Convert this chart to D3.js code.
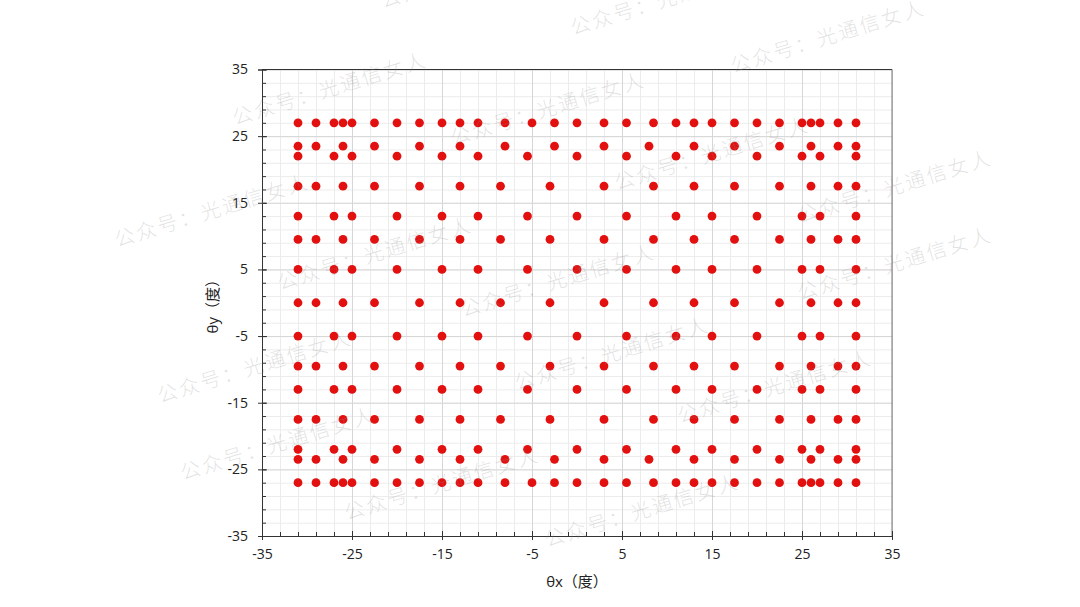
<!DOCTYPE html>
<html>
<head>
<meta charset="utf-8">
<script src="https://cdn.jsdelivr.net/npm/d3@7"></script>
<style>
  html, body { margin: 0; padding: 0; background: #fff; }
  svg { display: block; }
  .tick text { font-family: "Open Sans", "Noto Sans", sans-serif; font-size: 14px; fill: #222; }
</style>
</head>
<body>
<svg id="chart" width="1080" height="607"></svg>
<script>
// ---------------- data ----------------
const xTickValues = [-35, -25, -15, -5, 5, 15, 25, 35];
const yTickValues = [-35, -25, -15, -5, 5, 15, 25, 35];
const xLabel = "θx（度）";
const yLabel = "θy（度）";

// rows of the scatter (θy, degrees), top to bottom
const rowY = [27, 23.5, 22, 17.5, 13, 9.5, 5, 0, -5, -9.5, -13, -17.5, -22, -23.5, -27];
// which set of θx columns each row uses
const rowSet = ["D", "C", "A", "B", "A", "B", "A", "B", "A", "B", "A", "B", "A", "C", "D"];

// θx columns (degrees) for each row type
const colsA = [-31, -27, -25, -20, -15, -11, -5.5, 0, 5.5, 11, 15, 20, 25, 27, 31];
const colsB = [-31, -29, -26, -22.5, -17.5, -13, -8.5, -3, 3, 8.5, 13, 17.5, 22.5, 26, 29, 31];
const colsC = [-31, -29, -26, -22.5, -17.5, -13, -8, -2.5, 3, 8, 13, 17.5, 22.5, 26, 29, 31];
const colsD = [-31, -29, -27, -26, -25, -22.5, -20, -17.5, -15, -13, -11, -8, -5, -2.5, 0,
               3, 5.5, 8.5, 11, 13, 15, 17.5, 20, 22.5, 25, 26, 27, 29, 31];

// watermark text and anchor points
const watermarkText = "公众号：光通信女人";
const watermarkX = [383, 573, 733, 235, 453, 617, 117, 800, 280, 463, 800, 517, 160, 680, 183, 347, 547];
const watermarkY = [8, 35, 73, 125, 145, 190, 247, 223, 290, 317, 300, 390, 403, 423, 480, 520, 547];

// ---------------- chart ----------------
const colSets = { A: colsA, B: colsB, C: colsC, D: colsD };
const points = [];
rowY.forEach((y, i) => colSets[rowSet[i]].forEach(x => points.push({ x, y })));

const svg = d3.select("#chart");
svg.append("rect").attr("width", 1080).attr("height", 607).attr("fill", "#fff");

const L = 262, R = 892, T = 69.5, B = 536;
const x = d3.scaleLinear().domain([-35, 35]).range([L, R]);
const y = d3.scaleLinear().domain([-35, 35]).range([B, T]);
const minorVals = d3.range(-35, 35.01, 2);

// minor grid
svg.append("g").attr("transform", `translate(0,${B})`)
  .call(d3.axisBottom(x).tickValues(minorVals).tickSize(-(B - T)).tickFormat(""))
  .call(g => g.select(".domain").remove())
  .call(g => g.selectAll("line").attr("stroke", "#ececec"));
svg.append("g").attr("transform", `translate(${L},0)`)
  .call(d3.axisLeft(y).tickValues(minorVals).tickSize(-(R - L)).tickFormat(""))
  .call(g => g.select(".domain").remove())
  .call(g => g.selectAll("line").attr("stroke", "#ececec"));
// major grid
svg.append("g").attr("transform", `translate(0,${B})`)
  .call(d3.axisBottom(x).tickValues(xTickValues).tickSize(-(B - T)).tickFormat(""))
  .call(g => g.select(".domain").remove())
  .call(g => g.selectAll("line").attr("stroke", "#d6d6d6"));
svg.append("g").attr("transform", `translate(${L},0)`)
  .call(d3.axisLeft(y).tickValues(yTickValues).tickSize(-(R - L)).tickFormat(""))
  .call(g => g.select(".domain").remove())
  .call(g => g.selectAll("line").attr("stroke", "#d6d6d6"));

// frame: top and right
svg.append("line").attr("x1", L).attr("x2", R).attr("y1", T).attr("y2", T).attr("stroke", "#333");
svg.append("line").attr("x1", R).attr("x2", R).attr("y1", T).attr("y2", B).attr("stroke", "#777");

// points
svg.append("g").selectAll("circle").data(points).join("circle")
  .attr("cx", d => x(d.x)).attr("cy", d => y(d.y))
  .attr("r", 4.4).attr("fill", "#e31010");

// x axis
svg.append("g").attr("transform", `translate(0,${B})`)
  .call(d3.axisBottom(x).tickValues(minorVals).tickSize(-4).tickFormat(""))
  .call(g => g.select(".domain").remove())
  .call(g => g.selectAll("line").attr("stroke", "#333"));
svg.append("g").attr("transform", `translate(0,${B})`)
  .call(d3.axisBottom(x).tickValues(xTickValues).tickSize(-5).tickFormat(""))
  .call(g => g.select(".domain").remove())
  .call(g => g.selectAll("line").attr("stroke", "#333"));
svg.append("g").attr("transform", `translate(0,${B})`)
  .call(d3.axisBottom(x).tickValues(xTickValues).tickSizeOuter(0).tickSize(4).tickPadding(9).tickFormat(d3.format("d")))
  .call(g => g.select(".domain").attr("stroke", "#333"))
  .call(g => g.selectAll("line").attr("stroke", "#333"));

// y axis
svg.append("g").attr("transform", `translate(${L},0)`)
  .call(d3.axisLeft(y).tickValues(minorVals).tickSize(-4).tickFormat(""))
  .call(g => g.select(".domain").remove())
  .call(g => g.selectAll("line").attr("stroke", "#333"));
svg.append("g").attr("transform", `translate(${L},0)`)
  .call(d3.axisLeft(y).tickValues(yTickValues).tickSize(-5).tickFormat(""))
  .call(g => g.select(".domain").remove())
  .call(g => g.selectAll("line").attr("stroke", "#333"));
svg.append("g").attr("transform", `translate(${L},0)`)
  .call(d3.axisLeft(y).tickValues(yTickValues).tickSizeOuter(0).tickSize(4).tickPadding(10).tickFormat(d3.format("d")))
  .call(g => g.select(".domain").attr("stroke", "#333"))
  .call(g => g.selectAll("line").attr("stroke", "#333"));

svg.selectAll(".tick text").text(function () { return this.textContent.replace("−", "-"); });

// axis titles
svg.append("text").attr("x", (L + R) / 2).attr("y", 587)
  .attr("text-anchor", "middle")
  .attr("font-family", "'Open Sans', 'Noto Sans CJK SC', sans-serif")
  .attr("font-size", 15).attr("fill", "#222").text(xLabel);
svg.append("text")
  .attr("transform", `translate(218,${(T + B) / 2}) rotate(-90)`)
  .attr("text-anchor", "middle")
  .attr("font-family", "'Open Sans', 'Noto Sans CJK SC', sans-serif")
  .attr("font-size", 15).attr("fill", "#222").text(yLabel);

// watermarks
svg.append("g").selectAll("text").data(watermarkX).join("text")
  .attr("transform", (d, i) => `translate(${d},${watermarkY[i]}) rotate(-17)`)
  .attr("font-family", "'Noto Sans CJK SC', sans-serif")
  .attr("font-size", 20).attr("font-weight", 300).attr("letter-spacing", 2.5)
  .attr("fill", "#8c8c8c").attr("fill-opacity", 0.25)
  .text(watermarkText);
</script>
</body>
</html>
